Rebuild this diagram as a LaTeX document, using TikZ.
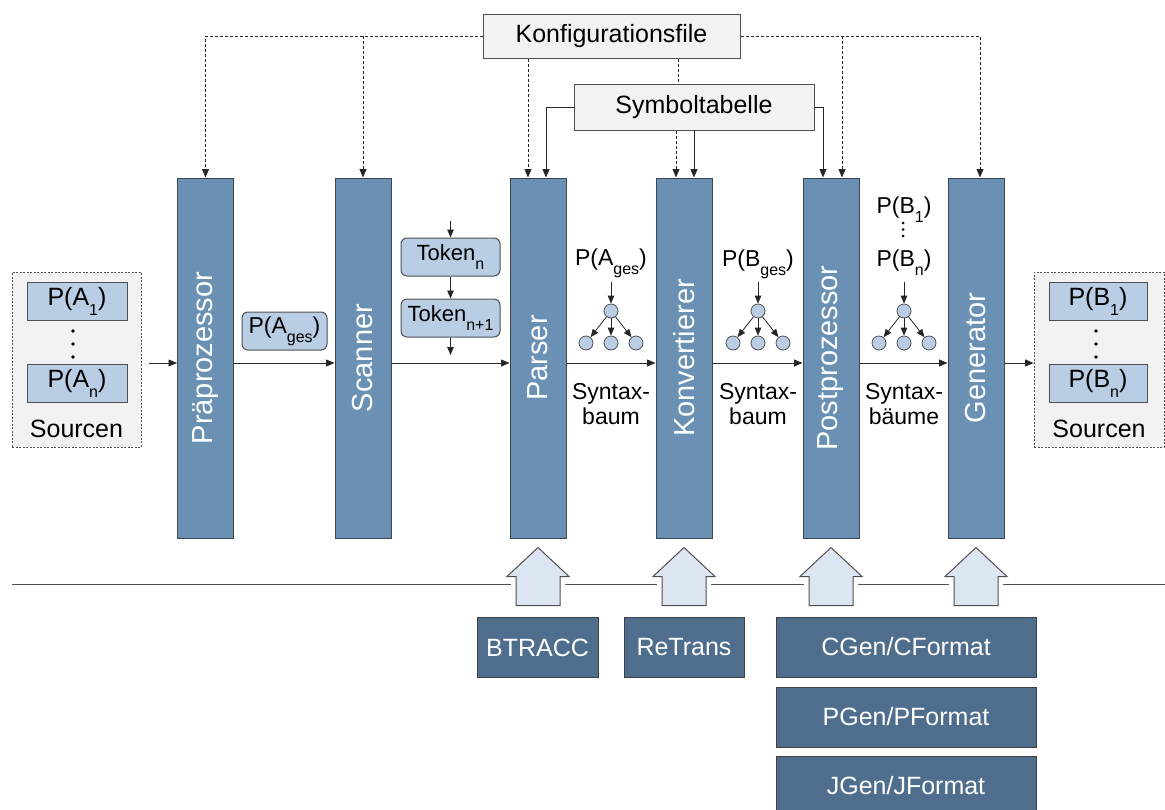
\documentclass[tikz,border=0pt]{standalone}
\usepackage{fontspec}
\setmainfont{Liberation Sans}
\usetikzlibrary{arrows.meta}
\definecolor{blockfill}{RGB}{106,145,180}
\definecolor{blockedge}{RGB}{58,70,82}
\definecolor{lightblue}{RGB}{185,205,228}
\definecolor{lightgray}{RGB}{242,242,242}
\definecolor{arrowfill}{RGB}{220,230,242}
\definecolor{darkboxfill}{RGB}{79,110,141}
\definecolor{edgegray}{RGB}{80,80,80}
\newcommand\sbs[1]{\raisebox{-0.4em}{\fontsize{16}{16}\selectfont #1}}
\newcommand\fs[1]{\fontsize{#1}{#1}\selectfont}
\tikzset{
  block/.style={draw=blockedge, line width=1pt, fill=blockfill, minimum width=56pt, minimum height=360pt, inner sep=0pt, text=white, font=\fs{29}},
  graybox/.style={draw=edgegray, fill=lightgray, line width=1pt, inner sep=0pt, font=\fs{25}},
  bluebox/.style={draw=edgegray, fill=lightblue, line width=1pt, inner sep=0pt, font=\fs{25}, minimum height=38pt},
  tokbox/.style={bluebox, rounded corners=6pt, font=\fs{22}, minimum width=99pt},
  srcbox/.style={draw=edgegray, dash pattern=on 2pt off 1.5pt, fill=lightgray, line width=0.8pt, inner sep=0pt},
  darkbox/.style={draw=black!75, fill=darkboxfill, line width=1pt, text=white, font=\fs{25}, minimum height=60pt, inner sep=0pt},
  arr/.style={-{Triangle[length=8.5pt,width=7pt]}, line width=0.8pt, draw=black!85},
  dsh/.style={arr, dash pattern=on 3pt off 2pt},
  plainline/.style={line width=0.8pt, draw=black!85},
  treenode/.style={circle, draw=edgegray, fill=lightblue, minimum size=14pt, inner sep=0pt, line width=0.8pt},
  tarr/.style={-{Triangle[length=8pt,width=6.5pt]}, line width=0.8pt, draw=black!85},
  lbl/.style={font=\fs{23}, inner sep=0pt},
  dotc/.style={fill=black, draw=none},
  bigarrow/.style={draw=edgegray, fill=arrowfill, line width=1pt, line join=miter,
    preaction={draw=white, line width=10pt, line join=round}},
  baseline/.style={line width=1pt, draw=edgegray}
}
\begin{document}
\begin{tikzpicture}[x=1pt, y=-1pt]
\useasboundingbox (0,0) rectangle (1165,809);
\clip (0,0) rectangle (1165,809);

% bottom separator line
\coordinate (blL) at (12,584);
\coordinate (blR) at (1165,584);
\draw[baseline] (blL) -- (blR);

% processing blocks
\node[block] (pre)  at (205.5,358) {\rotatebox{90}{Präprozessor}};
\node[block] (scan) at (363,358)   {\rotatebox{90}{Scanner}};
\node[block] (pars) at (538,358)   {\rotatebox{90}{Parser}};
\node[block] (konv) at (684,358)   {\rotatebox{90}{Konvertierer}};
\node[block] (post) at (831,358)   {\rotatebox{90}{Postprozessor}};
\node[block] (gen)  at (976,358)   {\rotatebox{90}{Generator}};

% top boxes
\node[graybox, minimum width=257pt, minimum height=44pt] (konf) at (611.5,36) {Konfigurationsfile};
\node[graybox, minimum width=240pt, minimum height=46pt] (sym) at (694,107) {Symboltabelle};

% configuration file dashed connectors
\draw[dsh] (konf.west) -| (pre.north);
\draw[dsh] (konf.west -| scan.north) -- (scan.north);
\draw[dsh] ([xshift=-10pt]pars.north |- konf.south) -- ([xshift=-10pt]pars.north);
\draw[plainline, dash pattern=on 3pt off 2pt] ([xshift=-6pt]konv.north |- konf.south) -- ([xshift=-6pt]konv.north |- sym.north);
\draw[dsh] ([xshift=-8pt]konv.north |- sym.south) -- ([xshift=-8pt]konv.north);
\draw[dsh] (konf.east) -| ([xshift=4pt]gen.north);
\draw[dsh] ([xshift=11pt]post.north |- konf.east) -- ([xshift=11pt]post.north);

% symbol table connectors
\draw[arr] (sym.west) -| ([xshift=8pt]pars.north);
\draw[arr] ([xshift=10pt]konv.north |- sym.south) -- ([xshift=10pt]konv.north);
\draw[arr] (sym.east) -| ([xshift=-8pt]post.north);

% left sources
\node[srcbox, minimum width=129pt, minimum height=175pt] (srcL) at (76.5,359.5) {};
\node[bluebox, minimum width=100pt] (a1) at (77,301) {P(A\sbs{1})};
\node[bluebox, minimum width=100pt] (an) at (77,383.5) {P(A\sbs{n})};
\foreach \yy in {331,344,357} \fill[dotc] (73,\yy) circle (1.8pt);
\node[lbl, font=\fs{25}, anchor=base] (srcLlbl) at (76.5,437) {Sourcen};

% right sources
\node[srcbox, minimum width=130pt, minimum height=175pt] (srcR) at (1099,359.5) {};
\node[bluebox, minimum width=98pt] (b1) at (1098,301) {P(B\sbs{1})};
\node[bluebox, minimum width=98pt] (bn) at (1098,383.5) {P(B\sbs{n})};
\foreach \yy in {331,344,357} \fill[dotc] (1096,\yy) circle (1.8pt);
\node[lbl, font=\fs{25}, anchor=base] (srcRlbl) at (1099,437) {Sourcen};

% main flow
\coordinate (flow) at (0,363);
\draw[arr] ([xshift=8pt]srcL.east |- flow) -- (pre.west |- flow);
\draw[arr] (pre.east |- flow) -- (scan.west |- flow);
\draw[arr] (scan.east |- flow) -- (pars.west |- flow);
\draw[arr] (pars.east |- flow) -- (konv.west |- flow);
\draw[arr] (konv.east |- flow) -- (post.west |- flow);
\draw[arr] (post.east |- flow) -- (gen.west |- flow);
\draw[arr] (gen.east |- flow) -- (srcR.west |- flow);

% P(Ages) between preprocessor and scanner
\node[bluebox, rounded corners=6pt, minimum width=85pt, font=\fs{23}] (ages) at (284.5,331) {P(A\sbs{ges})};

% tokens
\node[tokbox] (tok1) at (450.5,257) {Token\sbs{n}};
\node[tokbox] (tok2) at (450.5,318) {Token\sbs{n+1}};
\coordinate (tokin) at (450.5,221);
\coordinate (tokout) at (450.5,355);
\draw[tarr] (tokin) -- (tok1);
\draw[tarr] (tok1) -- (tok2);
\draw[tarr] (tok2) -- (tokout);

% syntax trees
\foreach \t/\x in {ta/611, tb/758, tc/904} {
  \node[treenode] (\t0) at (\x,311) {};
  \node[treenode] (\t1) at (\x-25,343) {};
  \node[treenode] (\t2) at (\x,343) {};
  \node[treenode] (\t3) at (\x+25,343) {};
  \coordinate (\t in) at (\x,282);
  \draw[tarr] (\t in) -- (\t0);
  \draw[tarr] (\t0) -- (\t1);
  \draw[tarr] (\t0) -- (\t2);
  \draw[tarr] (\t0) -- (\t3);
}
\node[lbl, anchor=base] (lta) at (611,265) {P(A\sbs{ges})};
\node[lbl, anchor=base] (ltb) at (758,266) {P(B\sbs{ges})};
\node[lbl, anchor=base] (ltc1) at (904,213) {P(B\sbs{1})};
\foreach \yy in {223,229.5,236} \fill[dotc] (903,\yy) circle (1.5pt);
\node[lbl, anchor=base] (ltcn) at (904,266) {P(B\sbs{n})};

\node[lbl, align=center, anchor=north, font=\fontsize{23}{25}\selectfont] (sa) at (611,383) {Syntax-\\baum};
\node[lbl, align=center, anchor=north, font=\fontsize{23}{25}\selectfont] (sb) at (758,383) {Syntax-\\baum};
\node[lbl, align=center, anchor=north, font=\fontsize{23}{25}\selectfont] (sc) at (904,383) {Syntax-\\bäume};

% block up-arrows
\foreach \n in {pars,konv,post,gen} {
  \draw[bigarrow] ([yshift=-9pt]\n.south) -- ++(31,29) -- ++(-9,0) -- ++(0,29) -- ++(-44,0) -- ++(0,-29) -- ++(-9,0) -- cycle;
}

% tools
\node[darkbox, minimum width=121pt] (btracc) at (537.5,647.5) {BTRACC};
\node[darkbox, minimum width=120pt] (retrans) at (684,647.5) {ReTrans};
\node[darkbox, minimum width=260pt] (cgen) at (906,647) {CGen/CFormat};
\node[darkbox, minimum width=260pt] (pgen) at (906,717) {PGen/PFormat};
\node[darkbox, minimum width=260pt] (jgen) at (906,786) {JGen/JFormat};
\end{tikzpicture}
\end{document}
